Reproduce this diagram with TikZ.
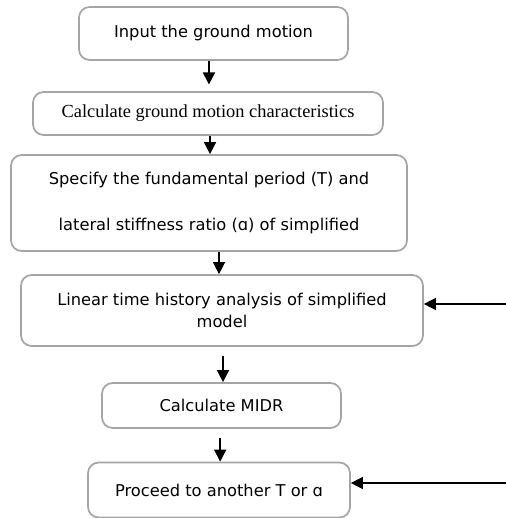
\documentclass[tikz,border=0pt]{standalone}
\usepackage{fontspec}
\setmainfont{DejaVu Sans}
\newfontfamily\calcserif{Liberation Serif}
\usepackage{tikz}
\usetikzlibrary{arrows.meta, positioning, calc}
\definecolor{boxgray}{RGB}{165, 165, 165}

\begin{document}
\begin{tikzpicture}[
  x=0.75pt, y=-0.75pt,
  fbox/.style={draw=boxgray, line width=1.3pt, rounded corners=8pt, align=center, inner sep=2pt, font=\fontsize{12.2}{14}\selectfont},
  flow/.style={-{Triangle[length=9pt, width=9pt]}, line width=1.1pt}
]
  \useasboundingbox (0,0) rectangle (506,518);
  \node[fbox, minimum width=201.75pt, minimum height=39.75pt] (input) at (213.5, 33.5) {Input the ground motion};
  \node[fbox, minimum width=262.5pt, minimum height=32.25pt, font=\calcserif\fontsize{13.8}{15}\selectfont] (calc) at (208, 113.5) {Calculate ground motion characteristics};
  \node[fbox, minimum width=297pt, minimum height=72pt] (spec) at (209, 203) {
    Specify the fundamental period (T) and\\[20pt]
    lateral stiffness ratio (ɑ) of simplified
  };
  \node[fbox, minimum width=301.5pt, minimum height=53.25pt, font=\fontsize{12.2}{17}\selectfont] (lin) at (222, 310.5) {
    Linear time history analysis of simplified\\
    model
  };
  \node[fbox, minimum width=179.25pt, minimum height=33.75pt] (midr) at (221.5, 405.5) {Calculate MIDR};
  \node[fbox, minimum width=196.5pt, minimum height=41.25pt] (next) at (219, 490) {Proceed to another T or ɑ};

  % down the chain
  \draw[flow, shorten >=5pt] ([xshift=-3.4pt]input.south) -- ([xshift=-3.4pt]input.south |- calc.north);
  \draw[flow] ([xshift=1.5pt]calc.south) -- ([xshift=1.5pt]calc.south |- spec.north);
  \draw[flow] ([xshift=7.5pt]spec.south) -- ([xshift=7.5pt]spec.south |- lin.north);
  \draw[flow, shorten <=7pt] ([xshift=0.75pt]lin.south) -- ([xshift=0.75pt]lin.south |- midr.north);
  \draw[flow, shorten <=6.75pt] ([xshift=-1pt]midr.south) -- ([xshift=-1pt]midr.south |- next.north);

  % loops coming in from the right
  \coordinate (loopA) at (506, 304);
  \coordinate (loopB) at (506, 483);
  \draw[flow] (loopA) -- (loopA -| lin.east);
  \draw[flow] (loopB) -- (loopB -| next.east);
\end{tikzpicture}
\end{document}
